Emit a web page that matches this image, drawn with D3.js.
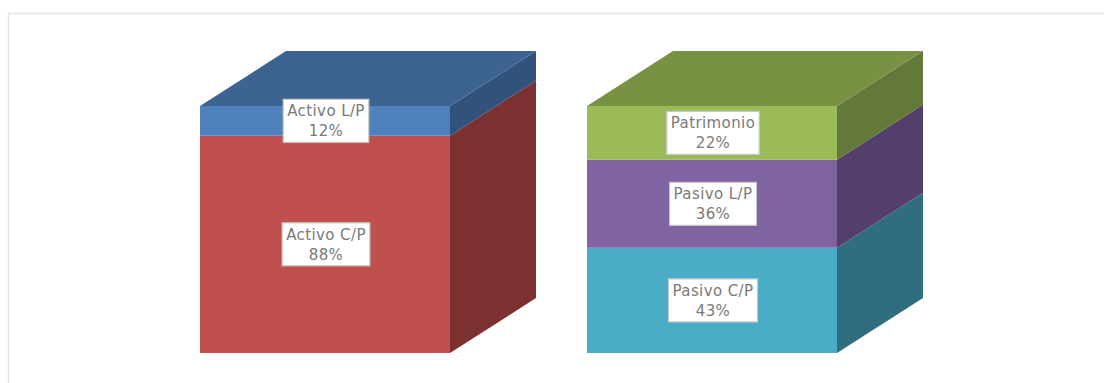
<!DOCTYPE html>
<html>
<head>
<meta charset="utf-8">
<script src="https://cdn.jsdelivr.net/npm/d3@7"></script>
<style>
html, body { margin: 0; padding: 0; background: #fff; }
svg { display: block; }
text { font-family: "DejaVu Sans", sans-serif; font-size: 15px; letter-spacing: 0.4px; fill: #7a7a7a; }
</style>
</head>
<body>
<svg id="chart" width="1104" height="383"></svg>
<script>
// Balance sheet structure: two stacked blocks, assets and liabilities + equity.
const columns = ["Activo", "Pasivo y Patrimonio"];
const activoNames = ["Activo C/P", "Activo L/P"];
const activoValues = [88, 12];
const pasivoNames = ["Pasivo C/P", "Pasivo L/P", "Patrimonio"];
const pasivoValues = [43, 36, 22];
const activoColors = [
  { front: "#C0504D", top: "#9a403e", side: "#7B3130" },
  { front: "#4F81BD", top: "#3D6390", side: "#31527A" }
];
const pasivoColors = [
  { front: "#4BACC6", top: "#3a8599", side: "#306E7F" },
  { front: "#8064A2", top: "#634e7e", side: "#533F69" },
  { front: "#9BBB59", top: "#789142", side: "#647839" }
];

const width = 1104, height = 383;
const svg = d3.select("#chart");

// Oblique projection of the depth axis
const depthX = 86, depthY = -55;

const x = d3.scaleBand().domain(columns).range([200, 837]).paddingInner(137 / 387).paddingOuter(0);
const y = d3.scaleLinear().range([353, 106]);

// Chart frame, open on the right and at the bottom
svg.append("path")
  .attr("d", d3.line()([[8.5, height], [8.5, 13.5], [width, 13.5]]))
  .attr("fill", "none").attr("stroke", "#e3e3e3").attr("stroke-width", 1.5);

function stackLayers(names, values, colors) {
  let acc = 0;
  return values.map((v, i) => {
    const layer = { name: names[i], value: v, y0: acc, y1: acc + v, color: colors[i] };
    acc += v;
    return layer;
  });
}

const blocks = [
  { column: columns[0], layers: stackLayers(activoNames, activoValues, activoColors) },
  { column: columns[1], layers: stackLayers(pasivoNames, pasivoValues, pasivoColors) }
];

const polygon = d3.line();

blocks.forEach(block => {
  const g = svg.append("g");
  const x0 = x(block.column), x1 = x0 + x.bandwidth();
  y.domain([0, d3.sum(block.layers, d => d.value)]);

  block.layers.forEach(d => {
    const yb = y(d.y0), yt = y(d.y1);
    // right-hand face
    g.append("path")
      .attr("d", polygon([[x1, yb], [x1 + depthX, yb + depthY], [x1 + depthX, yt + depthY], [x1, yt]]) + "Z")
      .attr("fill", d.color.side);
    // front face
    g.append("path")
      .attr("d", polygon([[x0, yb], [x1, yb], [x1, yt], [x0, yt]]) + "Z")
      .attr("fill", d.color.front);
  });

  // top face belongs to the uppermost layer
  const last = block.layers[block.layers.length - 1];
  const yTop = y(last.y1);
  g.append("path")
    .attr("d", polygon([[x0, yTop], [x1, yTop], [x1 + depthX, yTop + depthY], [x0 + depthX, yTop + depthY]]) + "Z")
    .attr("fill", last.color.top);

  // value labels in white boxes, centred on each front face
  block.layers.forEach(d => {
    const cx = (x0 + x1) / 2 + 1;
    const cy = (y(d.y0) + y(d.y1)) / 2;
    const label = g.append("g").attr("transform", `translate(${cx},${cy})`);
    const box = label.append("rect");
    const t1 = label.append("text").attr("text-anchor", "middle").attr("y", -4.5).text(d.name);
    const t2 = label.append("text").attr("text-anchor", "middle").attr("y", 15.5).text(d.value + "%");
    const w = Math.max(t1.node().getComputedTextLength(), t2.node().getComputedTextLength()) + 8;
    box.attr("x", -w / 2).attr("y", -21.5).attr("width", w).attr("height", 43)
      .attr("fill", "#fff").attr("stroke", "#c8c8c8").attr("stroke-width", 1.2);
  });
});
</script>
</body>
</html>
